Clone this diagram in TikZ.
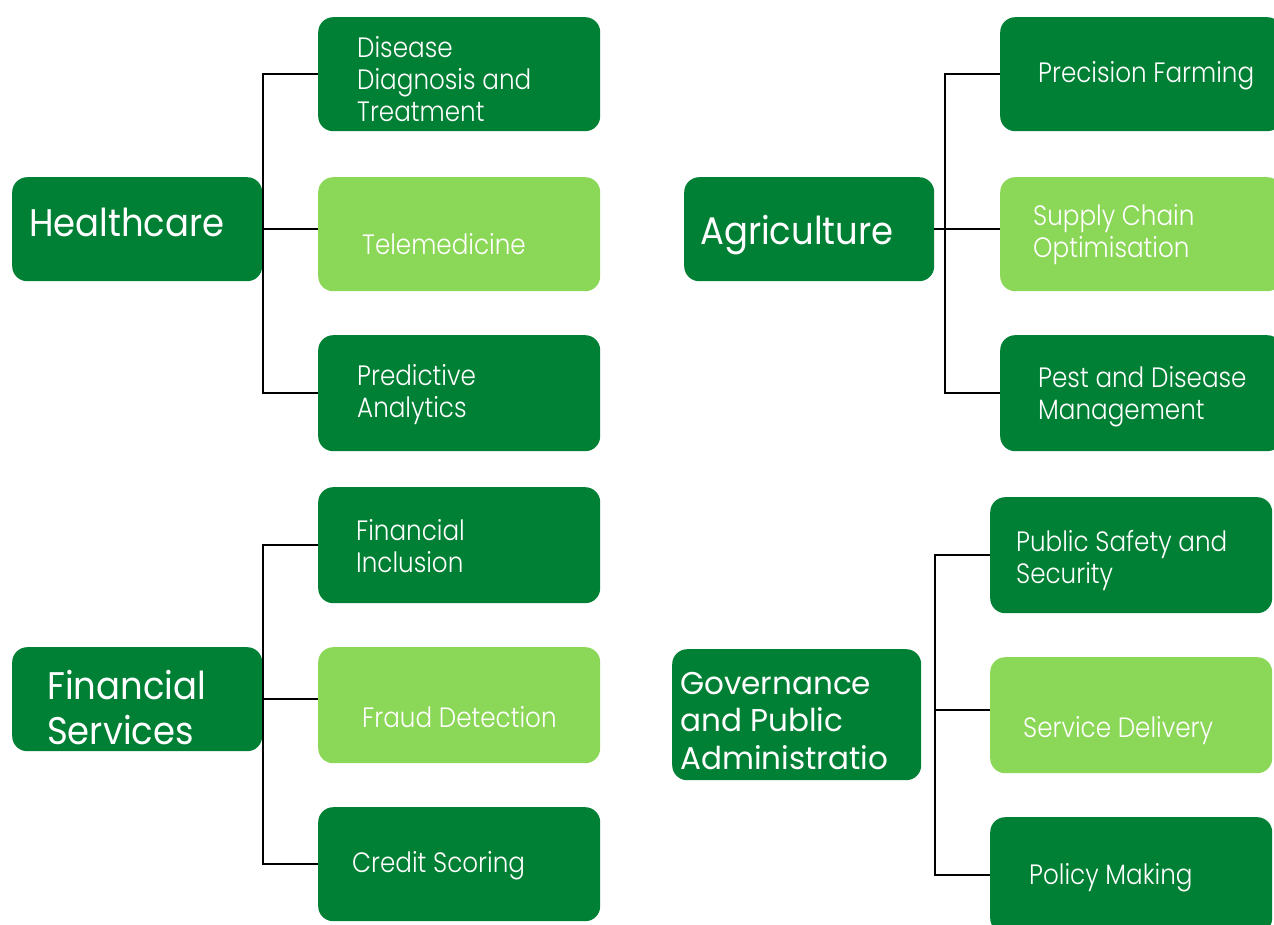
\documentclass[tikz,border=0pt]{standalone}
\usepackage{fontspec}
\setmainfont{Poppins}
\newfontfamily\bigf{Poppins}[FakeStretch=0.92]
\newfontfamily\govf{Poppins}[FakeStretch=0.985]
\newfontfamily\smallf{Poppins}[UprightFont=* Light, FakeStretch=0.88]
\definecolor{dgreen}{RGB}{0,128,52}
\definecolor{lgreen}{RGB}{139,215,87}
\begin{document}
\begin{tikzpicture}[x=1pt,y=-1pt,
  box/.style={draw=none, fill=dgreen, rounded corners=15pt, inner sep=0, anchor=north west},
  lbox/.style={box, fill=lgreen},
  txt/.style={anchor=base west, inner sep=0, text=white, yshift=-2pt},
  bigtxt/.style={txt, font=\bigf\fontsize{38.5}{45}\selectfont},
  govtxt/.style={txt, font=\govf\fontsize{31.5}{37.5}\selectfont},
  smalltxt/.style={txt, font=\smallf\fontsize{28}{32}\selectfont},
  conn/.style={draw=black, line width=2.2pt}]
\useasboundingbox (0,0) rectangle (1274,925);
\clip (0,0) rectangle (1274,925);

% ---------- Healthcare ----------
\node[box, minimum width=250pt, minimum height=104pt] (hc) at (12,177) {};
\node[box, minimum width=282pt, minimum height=114pt] (hc1) at (318,17) {};
\node[lbox, minimum width=282pt, minimum height=114pt] (hc2) at (318,177) {};
\node[box, minimum width=282pt, minimum height=116pt] (hc3) at (318,335) {};
\coordinate (hbus) at (263,0);
\draw[conn] (hc1.west) -- (hc1.west -| hbus) -- (hc3.west -| hbus) -- (hc3.west);
\draw[conn] (hc.east) -- (hc2.west |- hc.east);
\node[bigtxt] (hct) at (29,235) {Healthcare};
\node[smalltxt] (hc1t) at (357,56) {\parbox[t]{300pt}{Disease\\Diagnosis and\\Treatment}};
\node[smalltxt] (hc2t) at (362,253) {Telemedicine};
\node[smalltxt] (hc3t) at (357,383) {\parbox[t]{300pt}{Predictive\\Analytics}};

% ---------- Agriculture ----------
\node[box, minimum width=250pt, minimum height=104pt] (ag) at (684,177) {};
\node[box, minimum width=282pt, minimum height=114pt] (ac1) at (1000,17) {};
\node[lbox, minimum width=282pt, minimum height=114pt] (ac2) at (1000,177) {};
\node[box, minimum width=282pt, minimum height=116pt] (ac3) at (1000,335) {};
\coordinate (abus) at (945,0);
\draw[conn] (ac1.west) -- (ac1.west -| abus) -- (ac3.west -| abus) -- (ac3.west);
\draw[conn] (ag.east) -- (ac2.west |- ag.east);
\node[bigtxt] (agt) at (700,243) {Agriculture};
\node[smalltxt] (ac1t) at (1038,81) {Precision Farming};
\node[smalltxt] (ac2t) at (1033,224) {\parbox[t]{300pt}{Supply Chain\\Optimisation}};
\node[smalltxt] (ac3t) at (1038,385) {\parbox[t]{300pt}{Pest and Disease\\Management}};

% ---------- Financial Services ----------
\node[box, minimum width=250pt, minimum height=104pt] (fs) at (12,647) {};
\node[box, minimum width=282pt, minimum height=116pt] (fc1) at (318,487) {};
\node[lbox, minimum width=282pt, minimum height=116pt] (fc2) at (318,647) {};
\node[box, minimum width=282pt, minimum height=114pt] (fc3) at (318,807) {};
\coordinate (fbus) at (263,0);
\draw[conn] (fc1.west) -- (fc1.west -| fbus) -- (fc3.west -| fbus) -- (fc3.west);
\draw[conn] (fs.east) -- (fc2.west |- fs.east);
\node[bigtxt] (fst) at (47,697) {\parbox[t]{300pt}{Financial\\Services}};
\node[smalltxt] (fc1t) at (356,538) {\parbox[t]{300pt}{Financial\\Inclusion}};
\node[smalltxt] (fc2t) at (362,725) {Fraud Detection};
\node[smalltxt] (fc3t) at (352,870) {Credit Scoring};

% ---------- Governance ----------
\node[box, minimum width=249pt, minimum height=131pt] (gv) at (672,649) {};
\node[box, minimum width=282pt, minimum height=116pt] (gc1) at (990,497) {};
\node[lbox, minimum width=282pt, minimum height=116pt] (gc2) at (990,657) {};
\node[box, minimum width=282pt, minimum height=116pt] (gc3) at (990,817) {};
\coordinate (gbus) at (935,0);
\coordinate (gmid) at (935,710);
\draw[conn] (gc1.west) -- (gc1.west -| gbus) -- (gc3.west -| gbus) -- (gc3.west);
\draw[conn] (gmid) -- (gc2.west |- gmid);
\node[govtxt] (gvt) at (680,692) {\parbox[t]{300pt}{Governance\\and Public\\Administratio}};
\node[smalltxt] (gc1t) at (1016,549) {\parbox[t]{300pt}{Public Safety and\\Security}};
\node[smalltxt] (gc2t) at (1023,735) {Service Delivery};
\node[smalltxt] (gc3t) at (1029,882) {Policy Making};
\end{tikzpicture}
\end{document}
